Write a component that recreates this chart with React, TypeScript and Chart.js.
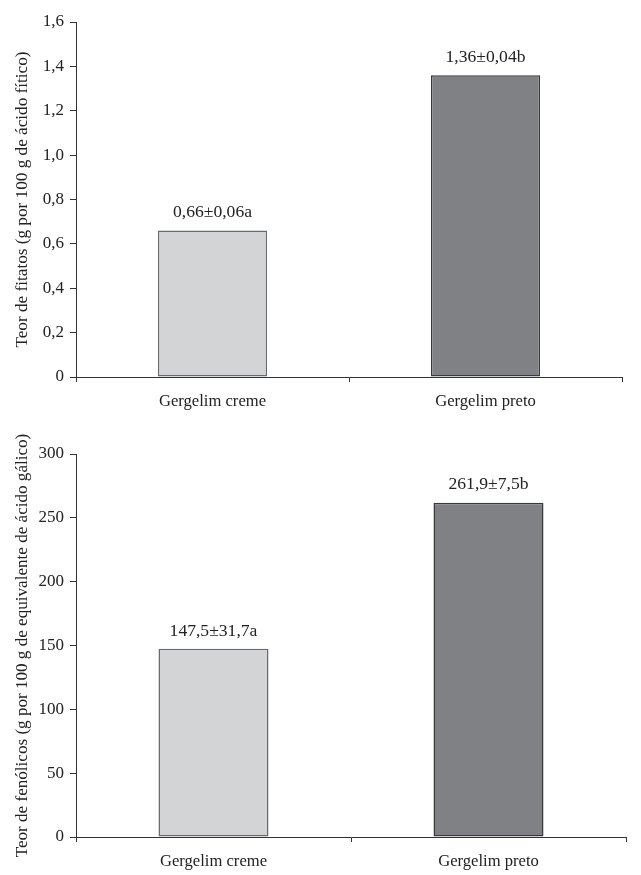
import React, { useEffect, useRef } from "react";
import { Chart, registerables } from "chart.js";

Chart.register(...registerables);

const categories = ["Gergelim creme", "Gergelim preto"];
const fitatosValues = [0.66, 1.36];
const fitatosLabels = ["0,66±0,06a", "1,36±0,04b"];
const fenolicosValues = [147.5, 261.9];
const fenolicosLabels = ["147,5±31,7a", "261,9±7,5b"];
const fitatosTitle = "Teor de fitatos (g por 100 g de ácido fítico)";
const fenolicosTitle = "Teor de fenólicos (g por 100 g de equivalente de ácido gálico)";

const FONT = "'Liberation Serif', 'Times New Roman', serif";
const TEXT = "#222";
const AXIS = "#333";

const labelPlugin = (labels: string[]) => ({
  id: "barLabels",
  afterDatasetsDraw(chart: any) {
    const ctx = chart.ctx;
    const meta = chart.getDatasetMeta(0);
    ctx.save();
    ctx.font = `17.6px ${FONT}`;
    ctx.fillStyle = TEXT;
    ctx.textAlign = "center";
    ctx.textBaseline = "bottom";
    meta.data.forEach((bar: any, i: number) => {
      ctx.fillText(labels[i], bar.x, bar.y - 9);
    });
    ctx.restore();
  },
});

function makeConfig(
  values: number[],
  labels: string[],
  title: string,
  max: number,
  step: number,
  fmt: (v: number) => string,
  pad: { top: number; right: number },
  yWidth: number,
  xHeight: number,
  titleSize: number
): any {
  return {
    type: "bar",
    data: {
      labels: categories,
      datasets: [
        {
          data: values,
          backgroundColor: ["#d3d4d6", "#808185"],
          borderColor: ["#6a6a6a", "#3a3a3a"],
          borderWidth: 1.5,
          borderSkipped: false,
          barPercentage: 0.4,
          categoryPercentage: 1,
        },
      ],
    },
    options: {
      responsive: false,
      animation: false,
      layout: { padding: { top: pad.top, right: pad.right, left: 0, bottom: 0 } },
      plugins: { legend: { display: false }, tooltip: { enabled: false }, title: { display: false } },
      scales: {
        x: {
          offset: true,
          grid: {
            offset: true,
            drawOnChartArea: false,
            drawTicks: true,
            tickLength: 5,
            color: AXIS,
            lineWidth: 1,
          },
          border: { display: true, color: AXIS, width: 1 },
          ticks: { color: TEXT, font: { family: FONT, size: 16.6 }, padding: 10 },
          afterFit: (s: any) => {
            s.height = xHeight;
          },
        },
        y: {
          min: 0,
          max,
          grid: {
            drawOnChartArea: false,
            drawTicks: true,
            tickLength: 6,
            color: AXIS,
            lineWidth: 1,
          },
          border: { display: true, color: AXIS, width: 1 },
          ticks: {
            stepSize: step,
            color: TEXT,
            font: { family: FONT, size: 17 },
            padding: 6,
            callback: (v: any) => fmt(Number(v)),
          },
          title: {
            display: true,
            text: title,
            color: TEXT,
            font: { family: FONT, size: titleSize },
            padding: { top: 12, bottom: 0 },
          },
          afterFit: (s: any) => {
            s.width = yWidth;
          },
        },
      },
    },
    plugins: [labelPlugin(labels)],
  };
}

export default function App() {
  const topRef = useRef<HTMLCanvasElement>(null);
  const botRef = useRef<HTMLCanvasElement>(null);

  useEffect(() => {
    document.body.style.margin = "0";
    const c1 = new Chart(
      topRef.current as HTMLCanvasElement,
      makeConfig(
        fitatosValues,
        fitatosLabels,
        fitatosTitle,
        1.6,
        0.2,
        (v) => (v === 0 ? "0" : v.toFixed(1).replace(".", ",")),
        { top: 22, right: 19 },
        76,
        53,
        17.2
      )
    );
    const c2 = new Chart(
      botRef.current as HTMLCanvasElement,
      makeConfig(
        fenolicosValues,
        fenolicosLabels,
        fenolicosTitle,
        300,
        50,
        (v) => String(v),
        { top: 24, right: 15 },
        76,
        38,
        17.1
      )
    );
    return () => {
      c1.destroy();
      c2.destroy();
    };
  }, []);

  return (
    <div style={{ position: "absolute", left: 0, top: 0, width: 641, height: 875, background: "#fff" }}>
      <canvas ref={topRef} width={641} height={430} style={{ position: "absolute", left: 0, top: 0, width: 641, height: 430 }} />
      <canvas ref={botRef} width={641} height={445} style={{ position: "absolute", left: 0, top: 430, width: 641, height: 445 }} />
    </div>
  );
}
